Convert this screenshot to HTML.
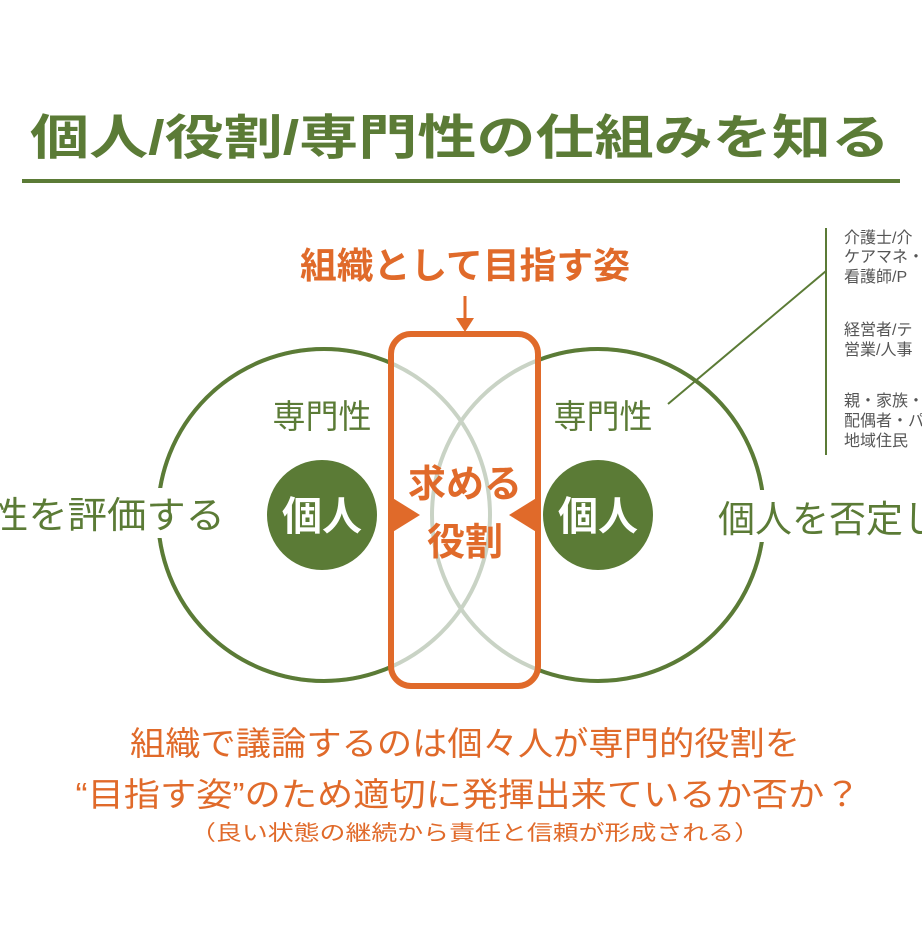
<!DOCTYPE html>
<html><head><meta charset="utf-8"><style>
html,body{margin:0;padding:0;background:#fff}
svg text{font-family:"Liberation Sans","Noto Sans CJK JP",sans-serif}
</style></head><body>
<svg width="922" height="922" viewBox="0 0 922 922" xmlns="http://www.w3.org/2000/svg">
<rect width="922" height="922" fill="#fff"/>
<text x="30" y="154" font-size="48" font-weight="bold" fill="#5b7b36" textLength="860" lengthAdjust="spacingAndGlyphs">個人/役割/専門性の仕組みを知る</text>
<line x1="22" y1="181" x2="900" y2="181" stroke="#5b7b36" stroke-width="4"/>
<text x="465" y="278" font-size="36" font-weight="bold" fill="#e06a2a" text-anchor="middle" textLength="330" lengthAdjust="spacingAndGlyphs">組織として目指す姿</text>
<line x1="465" y1="296" x2="465" y2="322" stroke="#e06a2a" stroke-width="3"/>
<polygon points="456,318 474,318 465,332" fill="#e06a2a"/>
<circle cx="324" cy="515" r="166" fill="none" stroke="#c9d3c5" stroke-width="4"/>
<circle cx="598" cy="515" r="166" fill="none" stroke="#c9d3c5" stroke-width="4"/>
<clipPath id="outL"><rect x="0" y="0" width="390" height="922"/></clipPath>
<clipPath id="outR"><rect x="538" y="0" width="400" height="922"/></clipPath>
<circle cx="324" cy="515" r="166" fill="none" stroke="#5b7b36" stroke-width="4" clip-path="url(#outL)"/>
<circle cx="598" cy="515" r="166" fill="none" stroke="#5b7b36" stroke-width="4" clip-path="url(#outR)"/>
<rect x="391" y="334" width="147" height="352" rx="20" fill="none" stroke="#e06a2a" stroke-width="6"/>
<polygon points="391,497 420,515 391,533" fill="#e06a2a"/>
<polygon points="538,497 509,515 538,533" fill="#e06a2a"/>
<text x="465" y="497" font-size="38" font-weight="bold" fill="#e06a2a" text-anchor="middle">求める</text>
<text x="465" y="555" font-size="38" font-weight="bold" fill="#e06a2a" text-anchor="middle">役割</text>
<circle cx="322" cy="515" r="55" fill="#5b7b36"/>
<circle cx="598" cy="515" r="55" fill="#5b7b36"/>
<text x="322" y="530" font-size="40" font-weight="bold" fill="#fff" text-anchor="middle">個人</text>
<text x="598" y="530" font-size="40" font-weight="bold" fill="#fff" text-anchor="middle">個人</text>
<text x="322" y="428" font-size="33" fill="#5b7b36" text-anchor="middle">専門性</text>
<text x="603" y="428" font-size="33" fill="#5b7b36" text-anchor="middle">専門性</text>
<rect x="140" y="488" width="40" height="50" fill="#fff"/>
<rect x="745" y="490" width="35" height="52" fill="#fff"/>
<text x="225" y="528" font-size="37" fill="#5b7b36" text-anchor="end" textLength="236" lengthAdjust="spacingAndGlyphs">性を評価する</text>
<text x="718" y="532" font-size="37" fill="#5b7b36">個人を否定し</text>
<line x1="826" y1="228" x2="826" y2="455" stroke="#5b7b36" stroke-width="2"/>
<line x1="826" y1="271" x2="668" y2="404" stroke="#5b7b36" stroke-width="2"/>
<g font-size="16" fill="#555">
<text x="844" y="243">介護士/介</text>
<text x="844" y="262">ケアマネ・医</text>
<text x="844" y="282">看護師/P</text>
<text x="844" y="335">経営者/テ</text>
<text x="844" y="355">営業/人事</text>
<text x="844" y="406">親・家族・</text>
<text x="844" y="426">配偶者・パ</text>
<text x="844" y="446">地域住民</text>
</g>
<text x="465" y="755" font-size="33" fill="#e06a2a" text-anchor="middle" textLength="670" lengthAdjust="spacingAndGlyphs">組織で議論するのは個々人が専門的役割を</text>
<text x="468" y="806" font-size="33" fill="#e06a2a" text-anchor="middle" textLength="785" lengthAdjust="spacingAndGlyphs">“目指す姿”のため適切に発揮出来ているか否か？</text>
<text x="475" y="840" font-size="21" fill="#e06a2a" text-anchor="middle" textLength="570" lengthAdjust="spacingAndGlyphs">（良い状態の継続から責任と信頼が形成される）</text>
</svg>
</body></html>
